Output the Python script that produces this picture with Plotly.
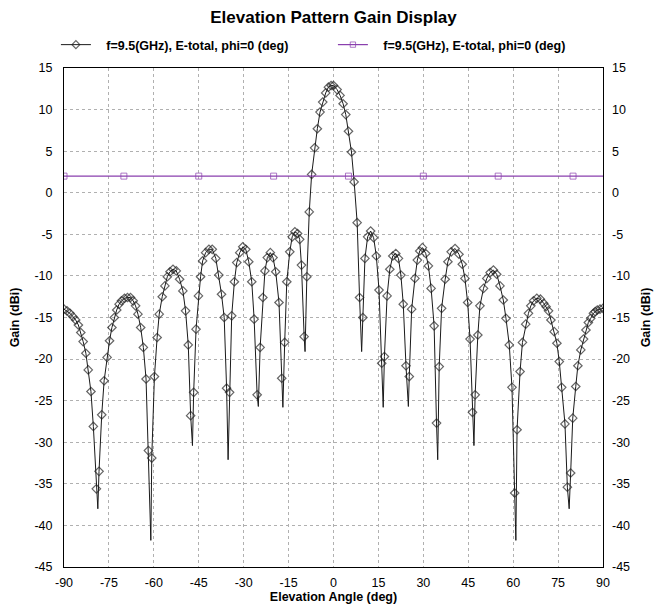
import plotly.graph_objects as go

# ---------------- data ----------------
angles_l = [-90.0, -89.0, -88.0, -87.0, -86.1, -85.2, -84.4, -83.6, -82.7, -81.9,
            -81.0, -80.2, -79.2, -78.3, -77.4, -76.6, -75.6, -74.8, -74.0, -73.2,
            -72.4, -71.6, -70.8, -69.8, -68.8, -67.8, -66.9, -66.1, -65.3, -64.4,
            -63.5, -62.6, -61.8, -60.7, -59.8, -58.9, -58.2, -57.2, -56.3, -55.5,
            -54.6, -53.6, -52.5, -51.4, -50.3, -49.4, -48.5, -47.7, -46.7, -45.9,
            -45.1, -44.4, -43.7, -42.7, -41.6, -40.5, -39.3, -38.3, -37.4, -36.5,
            -35.7, -34.7, -34.0, -33.1, -32.3, -31.3, -30.3, -29.3, -28.3, -27.3,
            -26.5, -25.5, -24.5, -23.6, -22.9, -22.1, -21.1, -20.2, -19.3, -18.2,
            -17.3, -16.3, -15.6, -14.6, -13.8, -12.9, -12.0, -11.3, -10.7, -9.8,
            -8.9, -8.1, -7.3, -6.3, -5.4, -4.5, -3.6, -2.6, -1.7, -0.8]
gains_l = [-14.0, -14.2, -14.5, -14.9, -15.3, -15.9, -16.8, -17.9, -19.3, -21.3,
           -23.9, -28.1, -35.6, -33.5, -26.7, -22.6, -19.8, -17.8, -16.2, -15.0,
           -14.1, -13.4, -13.0, -12.7, -12.6, -12.6, -13.0, -13.6, -14.6, -16.2,
           -18.6, -22.4, -31.0, -31.9, -22.1, -17.4, -14.6, -12.5, -11.2, -10.1,
           -9.5, -9.2, -9.4, -10.4, -11.8, -14.2, -18.3, -26.8, -24.0, -16.4,
           -12.4, -10.1, -8.2, -7.2, -6.8, -6.8, -7.9, -9.9, -12.2, -15.0,
           -23.5, -24.0, -14.8, -10.7, -8.4, -7.2, -6.5, -6.8, -8.3, -10.7,
           -15.2, -24.3, -18.6, -12.6, -9.4, -7.8, -7.2, -7.8, -9.5, -13.2,
           -22.3, -18.0, -10.7, -7.1, -5.3, -4.7, -4.9, -5.6, -8.7, -17.3,
           -10.1, -2.3, 2.2, 5.4, 7.7, 9.7, 10.9, 12.0, 12.7, 12.9]

angles_r = [0.0, 1.2, 2.2, 3.2, 4.1, 5.0, 6.0, 6.9, 7.9, 8.7,
            9.8, 10.5, 11.4, 12.4, 13.4, 14.3, 15.2, 16.1, 17.0, 17.9,
            18.8, 19.8, 20.8, 21.7, 22.5, 23.3, 24.2, 25.3, 26.1, 27.2,
            28.0, 28.8, 29.7, 30.8, 31.7, 32.6, 33.6, 34.4, 35.3, 36.1,
            37.3, 38.2, 39.3, 40.6, 41.9, 43.0, 43.9, 44.8, 45.6, 46.4,
            47.3, 48.2, 48.9, 50.1, 51.2, 52.3, 53.4, 54.5, 55.6, 56.7,
            57.6, 58.7, 59.6, 60.5, 61.3, 62.3, 63.1, 64.2, 65.1, 65.9,
            66.8, 67.9, 69.1, 70.2, 71.0, 71.8, 72.6, 73.7, 74.6, 75.4,
            76.2, 77.3, 78.1, 79.2, 79.9, 80.9, 81.6, 82.6, 83.5, 84.3,
            85.1, 85.9, 86.8, 87.4, 88.1, 89.0, 90.0]
gains_r = [12.9, 12.4, 11.7, 10.7, 9.4, 7.4, 4.9, 1.3, -3.6, -12.6,
           -15.0, -7.9, -5.3, -4.6, -5.4, -7.6, -11.7, -20.5, -19.7, -12.4,
           -9.2, -7.6, -7.3, -7.9, -9.9, -13.4, -20.8, -22.1, -14.0, -10.3,
           -8.1, -7.0, -6.6, -7.3, -8.8, -11.5, -16.0, -27.7, -20.9, -13.9,
           -10.4, -8.3, -7.1, -6.7, -7.4, -8.6, -10.3, -13.2, -17.6, -26.4,
           -24.3, -17.1, -13.6, -11.5, -10.3, -9.6, -9.3, -9.8, -11.2, -12.9,
           -15.1, -18.3, -23.4, -36.1, -28.5, -21.5, -18.0, -15.8, -14.5, -13.6,
           -13.0, -12.7, -12.8, -13.3, -13.7, -14.2, -15.3, -16.7, -18.1, -20.3,
           -23.4, -27.8, -35.4, -33.7, -27.1, -23.3, -20.8, -18.9, -17.6, -16.5,
           -15.6, -15.1, -14.5, -14.3, -14.1, -14.0, -13.9]

# deep nulls of the continuous curve (line only, no marker)
null_angles = [-78.7, -61.0, -47.1, -35.2, -25.1, -16.9, -9.5,
               9.4, 16.6, 25.0, 34.8, 46.9, 60.9, 78.7]
null_gains = [-38.0, -41.8, -30.4, -32.1, -25.7, -25.8, -19.1,
              -19.1, -25.8, -25.7, -32.1, -30.4, -41.8, -38.0]

ref_angles = [-90, -70, -45, -20, 5, 30, 55, 80, 90]
ref_gains = [2.0, 2.0, 2.0, 2.0, 2.0, 2.0, 2.0, 2.0, 2.0]
ref_marked = [True, True, True, True, True, True, True, True, False]

x_ticks = [-90, -75, -60, -45, -30, -15, 0, 15, 30, 45, 60, 75, 90]
y_ticks = [15, 10, 5, 0, -5, -10, -15, -20, -25, -30, -35, -40, -45]

legend_label = "f=9.5(GHz), E-total, phi=0 (deg)"

# ---------------- build traces ----------------
pts = [(a, g, 6.5) for a, g in zip(angles_l + angles_r, gains_l + gains_r)]
pts += [(a, g, 0) for a, g in zip(null_angles, null_gains)]
pts.sort(key=lambda p: p[0])
px = [p[0] for p in pts]
py = [p[1] for p in pts]
ps = [p[2] for p in pts]

FONT = "Liberation Sans, Arial, sans-serif"
legend_name = "&nbsp;&nbsp;&nbsp;<b>" + legend_label + "</b>"

fig = go.Figure()
fig.add_trace(go.Scatter(
    x=px, y=py, mode="lines+markers", name=legend_name,
    line=dict(color="#1a1a1a", width=1),
    marker=dict(symbol="diamond-open", size=ps, color="#222222",
                line=dict(width=1.2, color="#222222")),
))
fig.add_trace(go.Scatter(
    x=ref_angles, y=ref_gains, mode="lines+markers", name=legend_name,
    line=dict(color="#8a3fae", width=1.2),
    marker=dict(symbol="square-open", size=[6 if m else 0 for m in ref_marked],
                color="#8a3fae", line=dict(width=1, color="#8a3fae")),
))
# invisible trace to hold right axis
fig.add_trace(go.Scatter(x=[None], y=[None], yaxis="y2", showlegend=False,
                         hoverinfo="skip"))

grid = dict(showgrid=True, gridcolor="#b0b0b0", griddash="3px,3px", gridwidth=1)

fig.update_layout(
    width=667, height=607,
    margin=dict(l=64, r=64, t=68, b=40),
    paper_bgcolor="white", plot_bgcolor="white",
    font=dict(family=FONT, size=12.5, color="black"),
    title=dict(text="<b>Elevation Pattern Gain Display</b>", x=0.5, xanchor="center",
               y=1 - 17 / 607, yanchor="middle", font=dict(size=17, family=FONT)),
    legend=dict(orientation="h", x=-0.015, xanchor="left", y=1 + 23 / 499,
                yanchor="middle", font=dict(size=12.5, family=FONT),
                entrywidth=232, entrywidthmode="pixels", bgcolor="rgba(0,0,0,0)",
                itemwidth=30),
    showlegend=True,
    xaxis=dict(range=[-90, 90], tickmode="array", tickvals=x_ticks,
               ticktext=[str(v) for v in x_ticks], ticks="", showline=True,
               linecolor="black", linewidth=1, mirror=True, zeroline=False,
               ticklabelstandoff=4,
               title=dict(text="<b>Elevation Angle (deg)</b>", standoff=3,
                          font=dict(size=12.5)),
               automargin=False, **grid),
    yaxis=dict(range=[-45, 15], tickmode="array", tickvals=y_ticks,
               ticktext=[str(v) for v in y_ticks], ticks="", showline=True,
               linecolor="black", linewidth=1, mirror=True, zeroline=False,
               ticklabelstandoff=8,
               title=dict(text="<b>Gain (dBi)</b>", standoff=12, font=dict(size=12.5)),
               automargin=False, **grid),
    yaxis2=dict(range=[-45, 15], overlaying="y", side="right", tickmode="array",
                tickvals=y_ticks, ticktext=[str(v) for v in y_ticks], ticks="",
                showgrid=False, zeroline=False, showline=False,
                ticklabelstandoff=8,
                title=dict(text="<b>Gain (dBi)</b>", standoff=12, font=dict(size=12.5)),
                automargin=False),
)

fig.write_html("out.html")
